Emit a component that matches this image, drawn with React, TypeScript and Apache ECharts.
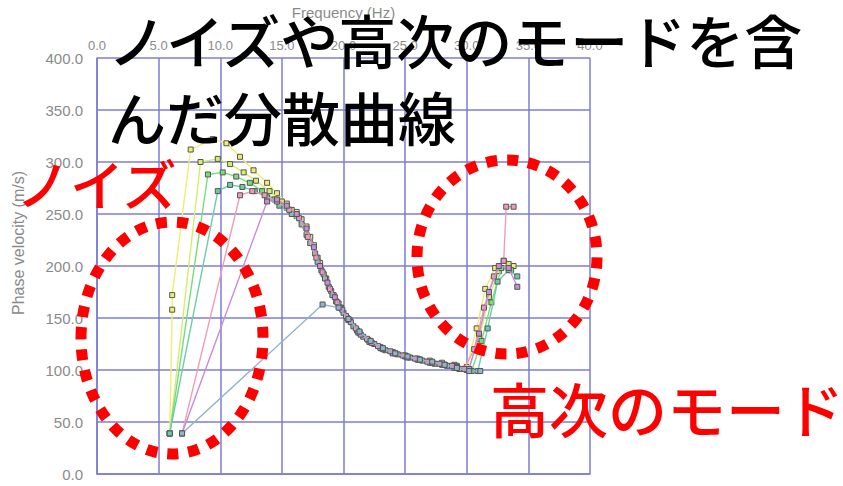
import React, { useEffect, useRef } from "react";
import * as echarts from "echarts";

const xTicks = [0, 5, 10, 15, 20, 25, 30, 35, 40];
const yTicks = [0, 50, 100, 150, 200, 250, 300, 350, 400];

const seriesNames = ["s1", "s2", "s3", "s4", "s5", "s6", "s7"];
const seriesColors = ["#eeee70", "#d4ee6a", "#78dc78", "#6ccca8", "#f09cb4", "#c88cd8", "#90b4cc"];

const s1 = [[5.9,39],[6.1,158],[6.1,172],[7.6,312],[9.4,322],[10.5,318],[11.6,305],[12.7,292],[13.8,280],[14.6,270],[15.4,260],[16.2,252],[17.0,238],[17.6,220],[18.1,203],[18.6,188],[19.2,172],[19.8,160],[20.5,148],[21.3,136],[22.2,127],[23.1,121],[24.0,117],[25.0,114],[26.0,111],[27.0,109],[28.0,107],[29.0,105],[30.0,103],[30.8,140],[31.5,178],[32.3,198],[33.0,205],[33.8,200]];
const s2 = [[5.9,39],[8.4,300],[9.8,303],[10.8,298],[11.9,290],[12.9,282],[14.0,272],[15.0,262],[15.8,254],[16.6,245],[17.3,228],[17.9,208],[18.4,192],[19.0,176],[19.6,164],[20.3,150],[21.1,138],[22.0,129],[23.0,122],[24.0,117],[25.1,113],[26.1,110],[27.2,107],[28.2,105],[29.2,104],[30.1,100],[31.0,130],[31.8,170],[32.6,195],[33.4,202]];
const s3 = [[5.9,39],[9.0,288],[10.2,290],[11.3,286],[12.4,280],[13.4,272],[14.4,264],[15.4,256],[16.2,248],[17.0,230],[17.7,212],[18.2,196],[18.8,180],[19.4,166],[20.0,155],[20.8,142],[21.6,132],[22.5,125],[23.4,119],[24.4,115],[25.4,112],[26.4,109],[27.4,106],[28.4,104],[29.4,101],[30.4,99],[31.2,128],[32.0,165],[32.8,198],[33.6,196]];
const s4 = [[5.9,39],[9.8,272],[10.8,278],[11.8,276],[12.8,272],[13.8,266],[14.8,258],[15.8,250],[16.6,240],[17.3,222],[17.9,204],[18.5,188],[19.1,172],[19.7,160],[20.4,148],[21.2,136],[22.1,127],[23.0,121],[24.0,116],[25.0,113],[26.0,110],[27.0,107],[28.0,105],[29.0,102],[30.0,100],[30.9,99],[31.7,140],[32.5,185],[33.4,196],[34.1,190]];
const s5 = [[6.9,39],[11.6,268],[12.6,272],[13.6,268],[14.6,262],[15.6,254],[16.4,246],[17.1,228],[17.8,208],[18.3,194],[18.9,178],[19.5,165],[20.2,152],[21.0,140],[21.9,130],[22.8,123],[23.8,118],[24.8,114],[25.8,111],[26.8,108],[27.8,106],[28.8,104],[29.8,101],[30.6,120],[31.4,160],[32.2,190],[33.0,205],[33.2,257],[33.8,257]];
const s6 = [[6.9,39],[13.8,262],[14.6,264],[15.4,258],[16.2,250],[17.0,236],[17.6,218],[18.1,200],[18.7,184],[19.3,170],[19.9,158],[20.6,146],[21.4,134],[22.3,126],[23.2,120],[24.2,116],[25.2,112],[26.2,110],[27.2,107],[28.2,105],[29.2,103],[30.2,101],[31.0,135],[31.8,175],[32.6,200],[33.4,198],[34.1,180]];
const s7 = [[6.9,39],[18.3,163],[19.6,160],[20.4,149],[21.3,137],[22.2,128],[23.2,121],[24.2,116],[25.2,113],[26.2,110],[27.2,108],[28.2,105],[29.2,102],[30.2,99],[31.1,99]];
const seriesData = [s1, s2, s3, s4, s5, s6, s7];

const titleLine1 = "ノイズや高次のモードを含";
const titleLine2 = "んだ分散曲線";
const noiseLabel = "ノイズ";
const modeLabel = "高次のモード";
const xName = "Frequency (Hz)";
const yName = "Phase velocity (m/s)";

export default function App() {
  const ref = useRef<HTMLDivElement>(null);
  useEffect(() => {
    if (!ref.current) return;
    const chart = echarts.init(ref.current, null, { renderer: "svg" });
    const gridColor = "#7c7cd4";
    const labelColor = "#8a8a8a";
    const cjk = "'Noto Sans CJK JP', 'Noto Sans', sans-serif";
    chart.setOption({
      animation: false,
      backgroundColor: "#ffffff",
      grid: { left: 97, top: 55, width: 493, height: 419, containLabel: false },
      xAxis: {
        type: "value",
        position: "top",
        min: xTicks[0],
        max: xTicks[xTicks.length - 1],
        interval: 5,
        name: xName,
        nameLocation: "middle",
        nameGap: 38,
        nameTextStyle: { color: labelColor, fontSize: 15, fontFamily: "Liberation Sans" },
        axisLine: { show: true, lineStyle: { color: gridColor, width: 1.5 } },
        axisTick: { show: false },
        axisLabel: {
          color: labelColor,
          fontSize: 13,
          fontFamily: "Liberation Sans",
          margin: 6,
          formatter: (v: number) => v.toFixed(1),
        },
        splitLine: { show: true, lineStyle: { color: gridColor, width: 1.5 } },
      },
      yAxis: {
        type: "value",
        min: yTicks[0],
        max: yTicks[yTicks.length - 1],
        interval: 50,
        axisLine: { show: true, lineStyle: { color: gridColor, width: 1.5 } },
        axisTick: { show: false },
        axisLabel: {
          color: labelColor,
          fontSize: 15,
          fontFamily: "Liberation Sans",
          margin: 14,
          formatter: (v: number) => v.toFixed(1),
        },
        splitLine: { show: true, lineStyle: { color: gridColor, width: 1.5 } },
      },
      series: seriesData.map((d, i) => ({
        name: seriesNames[i],
        type: "line",
        data: d,
        symbol: "rect",
        symbolSize: 5,
        lineStyle: { color: seriesColors[i], width: 1.4 },
        itemStyle: { color: seriesColors[i], borderColor: "#555555", borderWidth: 1 },
        z: 2 + i,
      })),
      graphic: [
        {
          type: "text",
          x: 18,
          y: 243,
          rotation: Math.PI / 2,
          style: {
            text: yName,
            fill: labelColor,
            font: "16px 'Liberation Sans'",
            align: "center",
            verticalAlign: "middle",
          },
          z: 50,
        },
        {
          type: "ellipse",
          shape: { cx: 172, cy: 338, rx: 91, ry: 116 },
          style: { fill: "none", stroke: "#ff0000", lineWidth: 11, lineDash: [11, 10] },
          z: 100,
        },
        {
          type: "ellipse",
          shape: { cx: 507, cy: 257, rx: 90, ry: 97 },
          style: { fill: "none", stroke: "#ff0000", lineWidth: 11, lineDash: [11, 10] },
          z: 100,
        },
        {
          type: "text",
          x: 108,
          y: 39,
          style: { text: titleLine1, fill: "#000000", font: `500 58px ${cjk}`, verticalAlign: "middle" },
          z: 110,
        },
        {
          type: "text",
          x: 108,
          y: 116,
          style: { text: titleLine2, fill: "#000000", font: `500 58px ${cjk}`, verticalAlign: "middle" },
          z: 110,
        },
        {
          type: "text",
          x: 16,
          y: 182,
          style: { text: noiseLabel, fill: "#ff0000", font: `500 54px ${cjk}`, verticalAlign: "middle" },
          z: 110,
        },
        {
          type: "text",
          x: 490,
          y: 407,
          style: { text: modeLabel, fill: "#ff0000", font: `500 59px ${cjk}`, verticalAlign: "middle" },
          z: 110,
        },
      ],
    });
    return () => chart.dispose();
  }, []);
  return (
    <div
      ref={ref}
      style={{ position: "absolute", left: 0, top: 0, width: 843, height: 486 }}
    />
  );
}
